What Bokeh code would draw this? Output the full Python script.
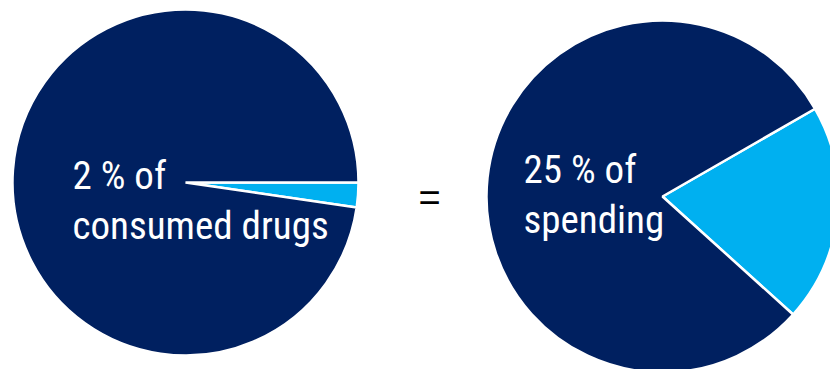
import numpy as np
from bokeh.plotting import figure
from bokeh.models import Range1d, ColumnDataSource
from bokeh.core.properties import value
from bokeh.embed import file_html
from bokeh.resources import INLINE

# --- data ---
categories = ["Specialty drugs", "Other drugs"]
left_shares = [2.3, 97.7]     # share of consumed drugs (as drawn)
right_shares = [20.0, 80.0]   # share of spending (as drawn)
left_label = ["2 % of", "consumed drugs"]
right_label = ["25 % of", "spending"]
colors = ["#00B0F0", "#002060"]

W, H = 830, 369
p = figure(width=W, height=H, output_backend="svg", toolbar_location=None,
           x_range=Range1d(0, W), y_range=Range1d(0, H),
           min_border=0, background_fill_color="white", border_fill_color="white")
p.axis.visible = False
p.grid.visible = False
p.outline_line_color = None


def pie(shares, start_deg, cx, cy, r):
    s = np.array(shares, dtype=float)
    frac = s / s.sum()
    ends = np.radians(start_deg) + np.cumsum(frac) * 2 * np.pi
    starts = ends - frac * 2 * np.pi
    src = ColumnDataSource(dict(start=starts, end=ends, color=colors, cat=categories))
    p.wedge(x=cx, y=cy, radius=r, start_angle="start", end_angle="end",
            fill_color="color", line_color="white", line_width=2.5, source=src)


# centres given in screen pixels (y measured from top)
pie(left_shares, -8.3, 185, H - 182, 173)
pie(right_shares, -42.1, 662, H - 196, 176)

font = value("Roboto Condensed")
p.text(x=[72, 72], y=[H - 175, H - 225], text=left_label, text_color="white",
       text_font=font, text_font_size="39px", text_baseline="alphabetic", text_align="left")
p.text(x=[523, 523], y=[H - 169, H - 219], text=right_label, text_color="white",
       text_font=font, text_font_size="39px", text_baseline="alphabetic", text_align="left")
p.text(x=[429], y=[H - 197], text=["="], text_color="black",
       text_font=value("Liberation Sans"), text_font_size="38px",
       text_baseline="alphabetic", text_align="center")

open("out.html", "w").write(file_html(p, INLINE))
